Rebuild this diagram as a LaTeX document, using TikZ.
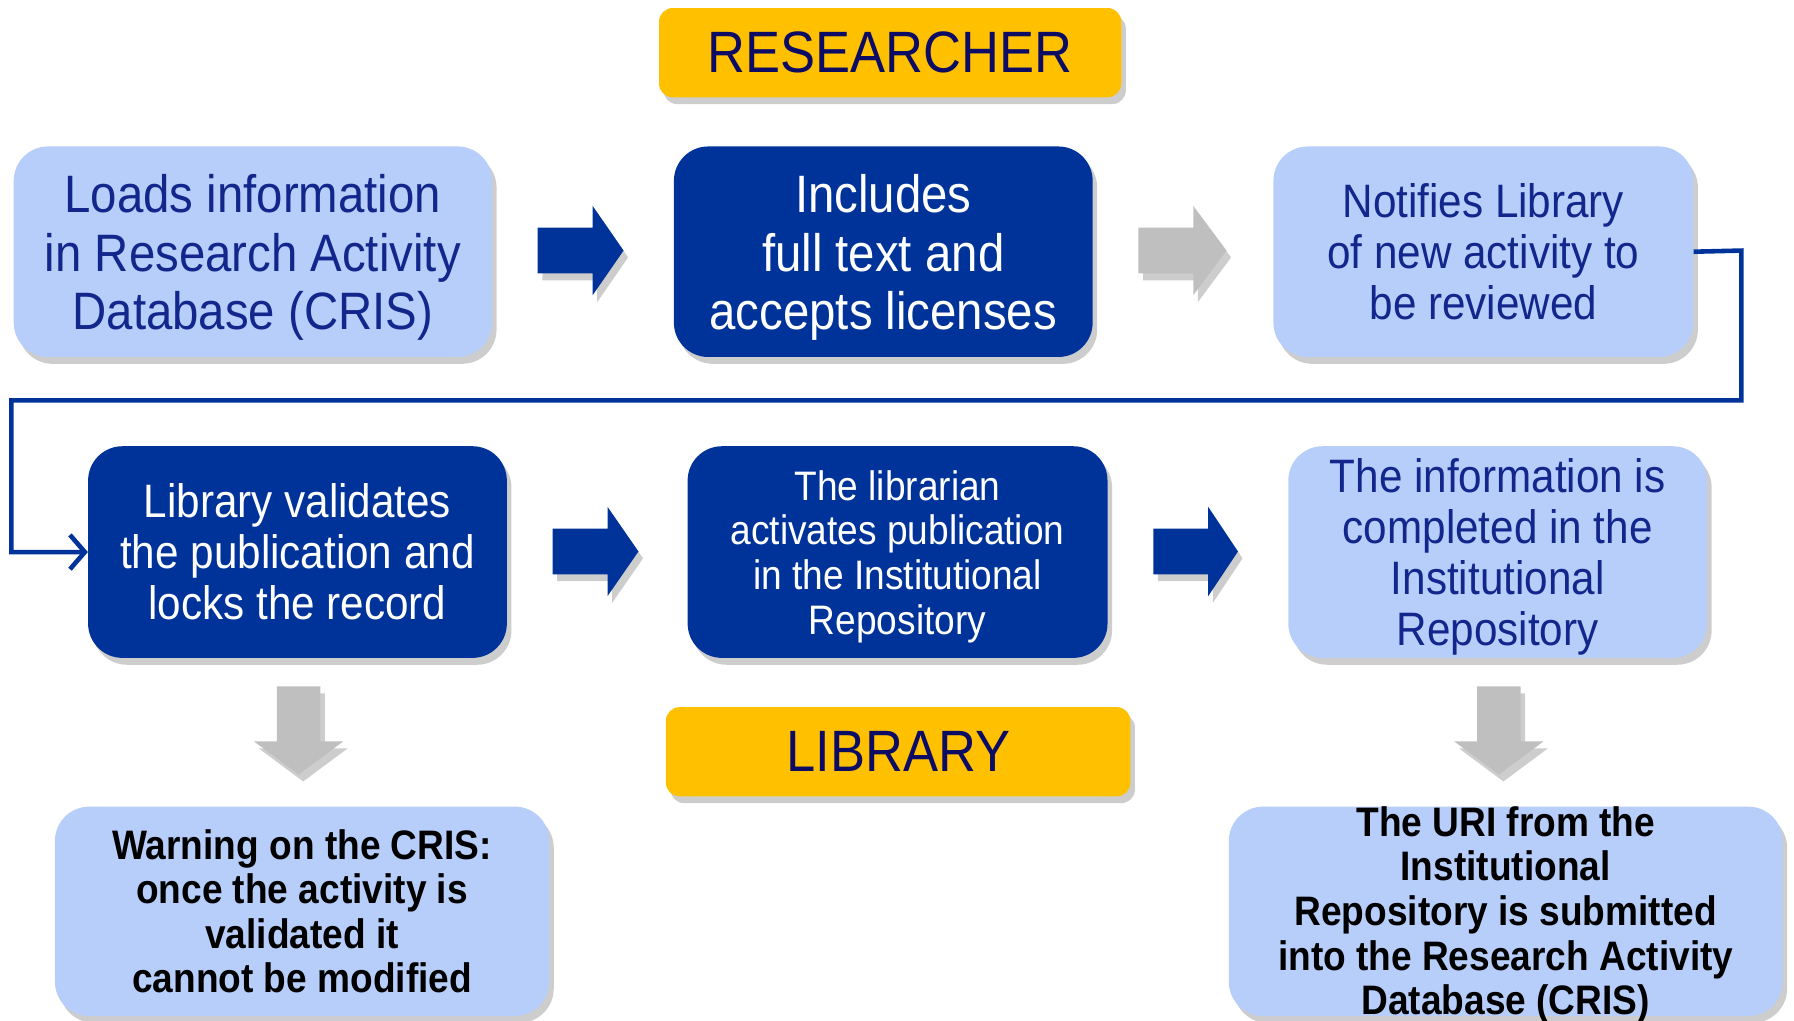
\documentclass[tikz,border=0pt]{standalone}
\usepackage{fontspec}
\setmainfont{Liberation Sans}[FakeStretch=0.9]
\usetikzlibrary{shadows,arrows.meta}
\definecolor{lightbox}{RGB}{183,205,250}
\definecolor{darkbox}{RGB}{0,51,153}
\definecolor{navytext}{RGB}{18,38,140}
\definecolor{goldbox}{RGB}{255,192,0}
\definecolor{goldtext}{RGB}{12,12,100}
\definecolor{grayarrow}{RGB}{191,191,191}
\tikzset{
  shad/.style={drop shadow={shadow xshift=4pt,shadow yshift=-6pt,opacity=0.28,fill=black!70}},
  boxbase/.style={rounded corners=30pt,inner sep=0pt,align=center,shad},
  lightstep/.style={boxbase,fill=lightbox,text=navytext},
  darkstep/.style={boxbase,fill=darkbox,text=white},
  boldstep/.style={boxbase,fill=lightbox,text=black,font=\bfseries\fontsize{36}{39}\selectfont},
  rolebox/.style={rounded corners=12pt,inner sep=0pt,fill=goldbox,text=goldtext,shad,font=\fontsize{51}{56}\selectfont},
  txtonly/.style={align=center,inner sep=0pt},
  bigtxt/.style={font=\fontsize{46}{51}\selectfont},
  midtxt/.style={font=\fontsize{41}{44.5}\selectfont},
  smalltxt/.style={font=\fontsize{36}{39}\selectfont},
  bluearrow/.style={fill=darkbox,shad},
  grayblk/.style={fill=grayarrow,shad},
  conn/.style={draw=darkbox,line width=4pt,-{Straight Barb[length=13pt,width=30pt,line width=4pt]}}
}
\begin{document}
\begin{tikzpicture}[x=1pt,y=-1pt]
\useasboundingbox (0,0) rectangle (1568,892);

\node[rolebox,minimum width=404pt,minimum height=78pt] (res) at (778,46) {RESEARCHER};

\node[lightstep,minimum width=418pt,minimum height=184pt] (n1) at (221,220) {};
\node[txtonly,bigtxt,text=navytext] (n1t) at ([yshift=-5pt]n1.center)
  {Loads information\\in Research Activity\\Database (CRIS)};
\node[darkstep,minimum width=366pt,minimum height=184pt] (n2) at (772,220) {};
\node[txtonly,bigtxt,text=white] (n2t) at ([yshift=-5pt]n2.center)
  {Includes\\full text and\\accepts licenses};
\node[lightstep,midtxt,minimum width=367pt,minimum height=184pt] (n3) at (1296.5,220)
  {Notifies Library\\of new activity to\\be reviewed};

\node[darkstep,midtxt,minimum width=366pt,minimum height=185pt] (n4) at (260,482.5)
  {Library validates\\the publication and\\locks the record};
\node[darkstep,minimum width=367pt,minimum height=185pt] (n5) at (784.5,482.5) {};
\node[txtonly,smalltxt,text=white] (n5t) at ([yshift=-4pt]n5.center)
  {The librarian\\activates publication\\in the Institutional\\Repository};
\node[lightstep,minimum width=366pt,minimum height=185pt] (n6) at (1309,482.5) {};
\node[txtonly,midtxt,text=navytext] (n6t) at ([yshift=-4pt]n6.center)
  {The information is\\completed in the\\Institutional\\Repository};

\node[rolebox,minimum width=406pt,minimum height=78pt] (lib) at (785,657) {LIBRARY};

\node[boldstep,minimum width=432pt,minimum height=183pt] (n7) at (264,796.5)
  {Warning on the CRIS:\\once the activity is\\validated it\\cannot be modified};
\node[boxbase,fill=lightbox,minimum width=484pt,minimum height=183pt] (n8) at (1316,796.5) {};
\node[txtonly,text=black,font=\bfseries\fontsize{36}{39}\selectfont] (n8t) at ([yshift=-3pt]n8.center)
  {The URI from the\\Institutional\\Repository is submitted\\into the Research Activity\\Database (CRIS)};

% block arrows
\fill[bluearrow,shift={(470,219)}] (0,-20) -- (48,-20) -- (48,-39) -- (75,0) -- (48,39) -- (48,20) -- (0,20) -- cycle;
\fill[grayblk,shift={(995,219)}] (0,-20) -- (48,-20) -- (48,-39) -- (77,0) -- (48,39) -- (48,20) -- (0,20) -- cycle;
\fill[bluearrow,shift={(483,482)}] (0,-20) -- (48,-20) -- (48,-39) -- (75,0) -- (48,39) -- (48,20) -- (0,20) -- cycle;
\fill[bluearrow,shift={(1008,482)}] (0,-20) -- (48,-20) -- (48,-39) -- (74,0) -- (48,39) -- (48,20) -- (0,20) -- cycle;
\fill[grayblk,shift={(261,600)}] (-19,0) -- (19,0) -- (19,48) -- (39,48) -- (0,77) -- (-39,48) -- (-19,48) -- cycle;
\fill[grayblk,shift={(1310,600)}] (-19,0) -- (19,0) -- (19,48) -- (39,48) -- (0,77) -- (-39,48) -- (-19,48) -- cycle;

% connector
\coordinate (k1) at (1522,219);
\coordinate (k2) at (10,350);
\draw[conn] (n3.east) -- (k1) |- (k2) |- (n4.west);
\end{tikzpicture}
\end{document}
